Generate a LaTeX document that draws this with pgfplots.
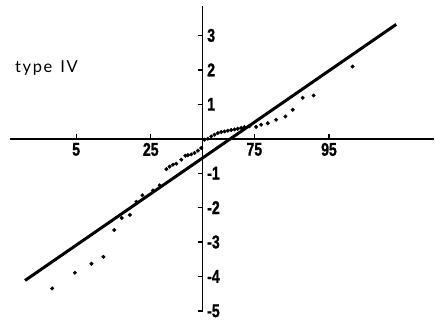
\documentclass[border=0pt]{standalone}
\usepackage{fontspec}
\usepackage{pgfplots}
\pgfplotsset{compat=1.18}
\setmainfont{Lato}
\newfontfamily\tickfont[FakeStretch=0.76,FakeBold=1.2]{Liberation Sans}
\newfontfamily\labelfont[LetterSpace=10]{Lato}

% normal probability plot: sample quantiles against normal scores
\pgfplotstableread{
x y
-1.957 -4.348
-1.662 -3.893
-1.445 -3.632
-1.290 -3.429
-1.149 -2.652
-1.052 -2.304
-0.945 -2.212
-0.861 -1.832
-0.783 -1.643
-0.645 -1.499
-0.558 -1.354
-0.471 -0.884
-0.429 -0.812
-0.386 -0.754
-0.342 -0.725
-0.277 -0.609
-0.225 -0.493
-0.191 -0.478
-0.147 -0.455
-0.104 -0.414
-0.061 -0.348
-0.017 -0.270
0.026 -0.029
0.069 0.000
0.113 0.067
0.156 0.116
0.199 0.165
0.243 0.194
0.286 0.212
0.329 0.232
0.373 0.252
0.416 0.270
0.458 0.290
0.503 0.310
0.545 0.339
0.610 0.362
0.697 0.342
0.762 0.406
0.848 0.449
0.957 0.551
1.078 0.646
1.173 0.841
1.303 1.188
1.445 1.255
1.952 2.096
}\sample

\begin{document}
\begin{tikzpicture}
\begin{axis}[
  x=77pt, y=34.5pt,
  axis lines=middle,
  xmin=-2.506, xmax=3.013, ymin=-5.04, ymax=3.86,
  axis line style={line width=1.8pt, -},
  xtick={-1.645,-0.674,0.674,1.645},
  xticklabels={5,25,75,95},
  ytick={-5,-4,-3,-2,-1,1,2,3},
  yticklabels={-5,-4,-3,-2,-1,1,2,3},
  xtick align=inside, ytick align=outside,
  major tick length=5pt,
  tick style={line width=1.3pt, black},
  ticklabel style={font=\tickfont\bfseries\fontsize{18.5}{18.5}\selectfont, inner sep=0pt},
  xticklabel style={anchor=north, yshift=-4pt},
  yticklabel style={anchor=west, xshift=9.5pt},
  clip=false,
]
  % fitted reference line
  \addplot[black, line width=3pt] coordinates {(-2.31,-4.117) (2.52,3.321)};
  % observations
  \addplot[only marks, mark=*, mark size=1.8pt, black] table[x=x, y=y] {\sample};
  \node[anchor=base west, inner sep=0pt, font=\labelfont\fontsize{16.5}{16.5}\selectfont]
    at (axis cs:-2.442,1.91) {type\hspace{8pt}IV};
  \path (axis cs:-2.636,-5.275) rectangle (axis cs:3.013,4.029);
\end{axis}
\end{tikzpicture}
\end{document}
